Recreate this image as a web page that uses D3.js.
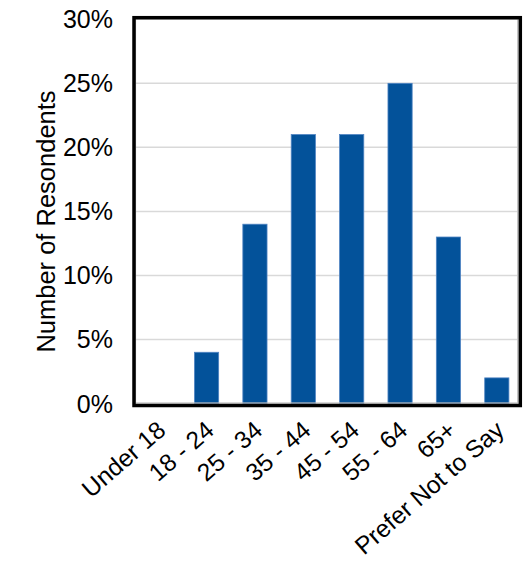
<!DOCTYPE html>
<html>
<head>
<meta charset="utf-8">
<script src="https://cdn.jsdelivr.net/npm/d3@7"></script>
<style>
  html, body { margin: 0; padding: 0; background: #fff; }
  svg { display: block; }
  text { font-family: "Liberation Sans", Arial, sans-serif; fill: #000; }
</style>
</head>
<body>
<svg id="chart" width="528" height="561"></svg>
<script>
// Age groups and share of respondents (%)
const categories = ["Under 18", "18 - 24", "25 - 34", "35 - 44", "45 - 54", "55 - 64", "65+", "Prefer Not to Say"];
const values = [0, 4, 14, 21, 21, 25, 13, 2];
const yTicks = [0, 5, 10, 15, 20, 25, 30];
const yTitle = "Number of Resondents";

const svg = d3.select("#chart");

const plot = { left: 134, right: 521, top: 19.3, bottom: 403.5 };

const x = d3.scaleBand()
  .domain(categories)
  .range([plot.left, plot.right])
  .paddingInner(0.5)
  .paddingOuter(0.25);

const y = d3.scaleLinear()
  .domain([0, 30])
  .range([plot.bottom, plot.top]);

// Gridlines
svg.append("g")
  .selectAll("line")
  .data(yTicks.filter(d => d > 0 && d < 30))
  .join("line")
  .attr("x1", plot.left)
  .attr("x2", plot.right - 3)
  .attr("y1", d => y(d))
  .attr("y2", d => y(d))
  .attr("stroke", "#d9d9d9")
  .attr("stroke-width", 1.5);

// Bars
svg.append("g")
  .selectAll("rect")
  .data(values)
  .join("rect")
  .attr("x", (d, i) => x(categories[i]))
  .attr("width", x.bandwidth())
  .attr("y", d => y(d))
  .attr("height", d => y(0) - y(d))
  .attr("fill", "#03529a")
  .attr("stroke", "#4f83c2")
  .attr("stroke-width", 0.8);

// Plot frame: light inner border with a heavy black outline
svg.append("rect")
  .attr("x", 135.5).attr("y", 19)
  .attr("width", 517.7 - 135.5).attr("height", 403 - 19)
  .attr("fill", "none")
  .attr("stroke", "#bfbfbf")
  .attr("stroke-width", 1.2);

svg.append("rect")
  .attr("x", 134).attr("y", 17.7)
  .attr("width", 520.3 - 134).attr("height", 405.5 - 17.7)
  .attr("fill", "none")
  .attr("stroke", "#000")
  .attr("stroke-width", 3.5);

// Y axis labels
const yAxis = d3.axisLeft(y)
  .tickValues(yTicks)
  .tickFormat(d => d + "%")
  .tickSize(0)
  .tickPadding(0);

const gy = svg.append("g")
  .attr("transform", "translate(113,0)")
  .call(yAxis);
gy.select(".domain").remove();
gy.selectAll("text")
  .attr("font-size", 25)
  .attr("font-family", "Liberation Sans, Arial, sans-serif")
  .attr("fill", "#000")
  .attr("dy", "0.34em");

// X axis labels, rotated
const xAxis = d3.axisBottom(x).tickSize(0).tickPadding(0);
const gx = svg.append("g")
  .attr("transform", `translate(0,${plot.bottom})`)
  .call(xAxis);
gx.select(".domain").remove();
gx.selectAll("text")
  .attr("font-size", 24.5)
  .attr("font-family", "Liberation Sans, Arial, sans-serif")
  .attr("fill", "#000")
  .attr("text-anchor", "end")
  .attr("y", 0)
  .attr("dy", 0)
  .attr("transform", "translate(9,29) rotate(-41)");

// Y axis title
svg.append("text")
  .attr("transform", "translate(54.5,221.5) rotate(-90)")
  .attr("text-anchor", "middle")
  .attr("font-size", 25.5)
  .text(yTitle);
</script>
</body>
</html>
